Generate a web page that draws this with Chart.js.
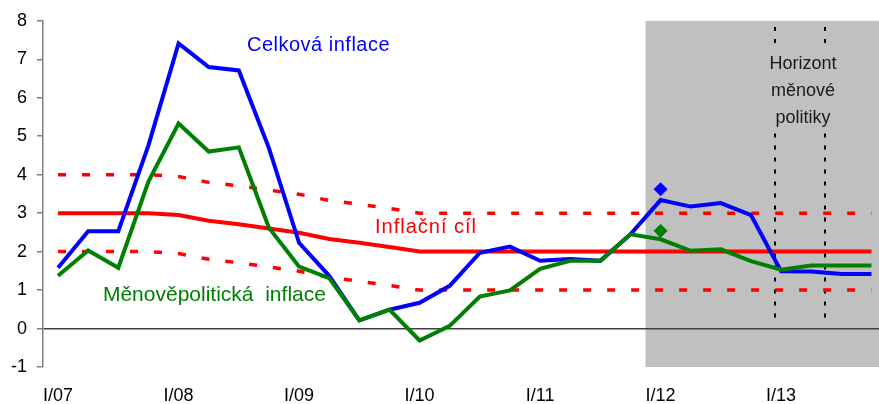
<!DOCTYPE html>
<html>
<head>
<meta charset="utf-8">
<script src="https://cdn.jsdelivr.net/npm/chart.js@4"></script>
<style>
	html, body { margin: 0; padding: 0; background: #fff; overflow: hidden; }
</style>
</head>
<body>
<canvas id="myChart" width="879" height="404"></canvas>
<script>
const quarters = [
	"I/07", "II/07", "III/07", "IV/07",
	"I/08", "II/08", "III/08", "IV/08",
	"I/09", "II/09", "III/09", "IV/09",
	"I/10", "II/10", "III/10", "IV/10",
	"I/11", "II/11", "III/11", "IV/11",
	"I/12", "II/12", "III/12", "IV/12",
	"I/13", "II/13", "III/13", "IV/13"
];
const tickLabels = ["I/07", "I/08", "I/09", "I/10", "I/11", "I/12", "I/13"];

// Celková inflace
const celkova = [1.58, 2.53, 2.53, 4.76, 7.41, 6.80, 6.71, 4.69, 2.23, 1.37, 0.21, 0.49, 0.67, 1.11, 1.97, 2.13, 1.76, 1.81, 1.76, 2.45, 3.34, 3.17, 3.26, 2.95, 1.49, 1.48, 1.42, 1.42];
// Měnověpolitická inflace
const menova = [1.37, 2.03, 1.58, 3.82, 5.33, 4.60, 4.71, 2.62, 1.61, 1.31, 0.21, 0.49, -0.31, 0.07, 0.83, 0.99, 1.55, 1.76, 1.76, 2.45, 2.32, 2.02, 2.06, 1.75, 1.53, 1.64, 1.64, 1.64];
// Inflační cíl a tolerance
const cil = [3, 3, 3, 3, 2.95, 2.8, 2.71, 2.6, 2.49, 2.33, 2.23, 2.12, 2, 2, 2, 2, 2, 2, 2, 2, 2, 2, 2, 2, 2, 2, 2, 2];
const cilHorni = [4, 4, 4, 4, 3.95, 3.8, 3.71, 3.6, 3.49, 3.33, 3.23, 3.12, 3, 3, 3, 3, 3, 3, 3, 3, 3, 3, 3, 3, 3, 3, 3, 3];
const cilDolni = [2, 2, 2, 2, 1.95, 1.8, 1.71, 1.6, 1.49, 1.33, 1.23, 1.12, 1, 1, 1, 1, 1, 1, 1, 1, 1, 1, 1, 1, 1, 1, 1, 1];
// body v I/12
const bodCelkova = [3.62];
const bodMenova = [2.54];

const FONT = "'Liberation Sans', Arial, sans-serif";
Chart.defaults.font.family = FONT;

function toPoints(arr) {
	return arr.map((v, i) => ({ x: i, y: v }));
}
const iPrognoza = quarters.indexOf("I/12");

// sede pozadi prognozy
const pozadi = {
	id: "pozadi",
	beforeDraw(chart) {
		const { ctx, chartArea, scales } = chart;
		const x0 = scales.x.getPixelForValue(iPrognoza - 0.5);
		const top = scales.y.getPixelForValue(8);
		const bottom = scales.y.getPixelForValue(-1);
		ctx.save();
		ctx.fillStyle = "#c0c0c0";
		ctx.fillRect(x0, top, chartArea.right - x0, bottom - top);
		ctx.restore();
	}
};

// horizont menove politiky
const horizont = {
	id: "horizont",
	beforeDatasetsDraw(chart) {
		const { ctx, scales } = chart;
		const x = scales.x, y = scales.y;
		ctx.save();
		ctx.strokeStyle = "#000";
		ctx.lineWidth = 2;
		ctx.setLineDash([4, 8]);
		[23.8, 25.46].forEach(q => {
			const px = Math.round(x.getPixelForValue(q));
			[[7.84, 7.4], [5.07, 0.22]].forEach(seg => {
				ctx.beginPath();
				ctx.moveTo(px, y.getPixelForValue(seg[0]));
				ctx.lineTo(px, y.getPixelForValue(seg[1]));
				ctx.stroke();
			});
		});
		ctx.setLineDash([]);
		ctx.fillStyle = "#1a1a1a";
		ctx.font = "18px " + FONT;
		ctx.textAlign = "center";
		ctx.textBaseline = "middle";
		const cx = x.getPixelForValue(24.73);
		ctx.fillText("Horizont", cx, y.getPixelForValue(6.87));
		ctx.fillText("měnové", cx, y.getPixelForValue(6.17));
		ctx.fillText("politiky", cx, y.getPixelForValue(5.47));
		ctx.restore();
	}
};

// popisky rad
const popisky = {
	id: "popisky",
	afterDatasetsDraw(chart) {
		const { ctx, scales } = chart;
		const x = scales.x, y = scales.y;
		ctx.save();
		ctx.textAlign = "left";
		ctx.textBaseline = "middle";
		ctx.font = "20px " + FONT;
		ctx.letterSpacing = "0.5px";
		ctx.fillStyle = "#0000ff";
		ctx.fillText("Celková inflace", x.getPixelForValue(6.27), y.getPixelForValue(7.35));
		ctx.letterSpacing = "1px";
		ctx.fillStyle = "#ff0000";
		ctx.fillText("Inflační cíl", x.getPixelForValue(10.52), y.getPixelForValue(2.63));
		ctx.letterSpacing = "0px";
		ctx.font = "21px " + FONT;
		ctx.fillStyle = "#008000";
		ctx.fillText("Měnověpolitická  inflace", x.getPixelForValue(1.49), y.getPixelForValue(0.87));
		ctx.restore();
	}
};

const ctx = document.getElementById("myChart");
new Chart(ctx, {
	type: "line",
	data: {
		datasets: [
			{
				data: [{ x: iPrognoza, y: bodCelkova[0] }],
				showLine: false,
				pointStyle: "rectRot",
				pointRadius: 6.5,
				pointBackgroundColor: "#0000ff",
				pointBorderColor: "#0000ff",
				pointBorderWidth: 1
			},
			{
				data: [{ x: iPrognoza, y: bodMenova[0] }],
				showLine: false,
				pointStyle: "rectRot",
				pointRadius: 6.5,
				pointBackgroundColor: "#008000",
				pointBorderColor: "#008000",
				pointBorderWidth: 1
			},
			{
				data: toPoints(menova),
				borderColor: "#008000",
				borderWidth: 4,
				pointRadius: 0,
				tension: 0
			},
			{
				data: toPoints(celkova),
				borderColor: "#0000ff",
				borderWidth: 4,
				pointRadius: 0,
				tension: 0
			},
			{
				data: toPoints(cil),
				borderColor: "#ff0000",
				borderWidth: 4,
				pointRadius: 0,
				tension: 0
			},
			{
				data: toPoints(cilHorni),
				borderColor: "#ff0000",
				borderWidth: 3.5,
				borderDash: [8, 16],
				borderCapStyle: "butt",
				pointRadius: 0,
				tension: 0
			},
			{
				data: toPoints(cilDolni),
				borderColor: "#ff0000",
				borderWidth: 3.5,
				borderDash: [8, 16],
				borderCapStyle: "butt",
				pointRadius: 0,
				tension: 0
			}
		]
	},
	options: {
		responsive: false,
		animation: false,
		layout: { autoPadding: false, padding: { top: 20, right: 0, bottom: 0, left: 0 } },
		plugins: {
			legend: { display: false },
			tooltip: { enabled: false }
		},
		scales: {
			x: {
				type: "linear",
				min: -0.5,
				max: 27.25,
				grid: { display: false, drawTicks: false },
				border: { display: false },
				afterBuildTicks(scale) {
					scale.ticks = tickLabels.map(l => ({ value: quarters.indexOf(l) }));
				},
				afterFit(scale) {
					scale.height = 37;
				},
				ticks: {
					padding: 18,
					maxRotation: 0,
					autoSkip: false,
					color: "#000",
					font: { size: 18 },
					callback: v => quarters[v]
				}
			},
			y: {
				min: -1,
				max: 8,
				afterFit(scale) {
					scale.width = 43;
				},
				ticks: {
					stepSize: 1,
					padding: 10,
					color: "#000",
					font: { size: 18 }
				},
				grid: {
					color: c => (c.tick && c.tick.value === 0 ? "#404040" : "rgba(0,0,0,0)"),
					tickColor: "#808080",
					tickLength: 6,
					lineWidth: 1.5
				},
				border: { color: "#808080", width: 1.5 }
			}
		}
	},
	plugins: [pozadi, horizont, popisky]
});
</script>
</body>
</html>
